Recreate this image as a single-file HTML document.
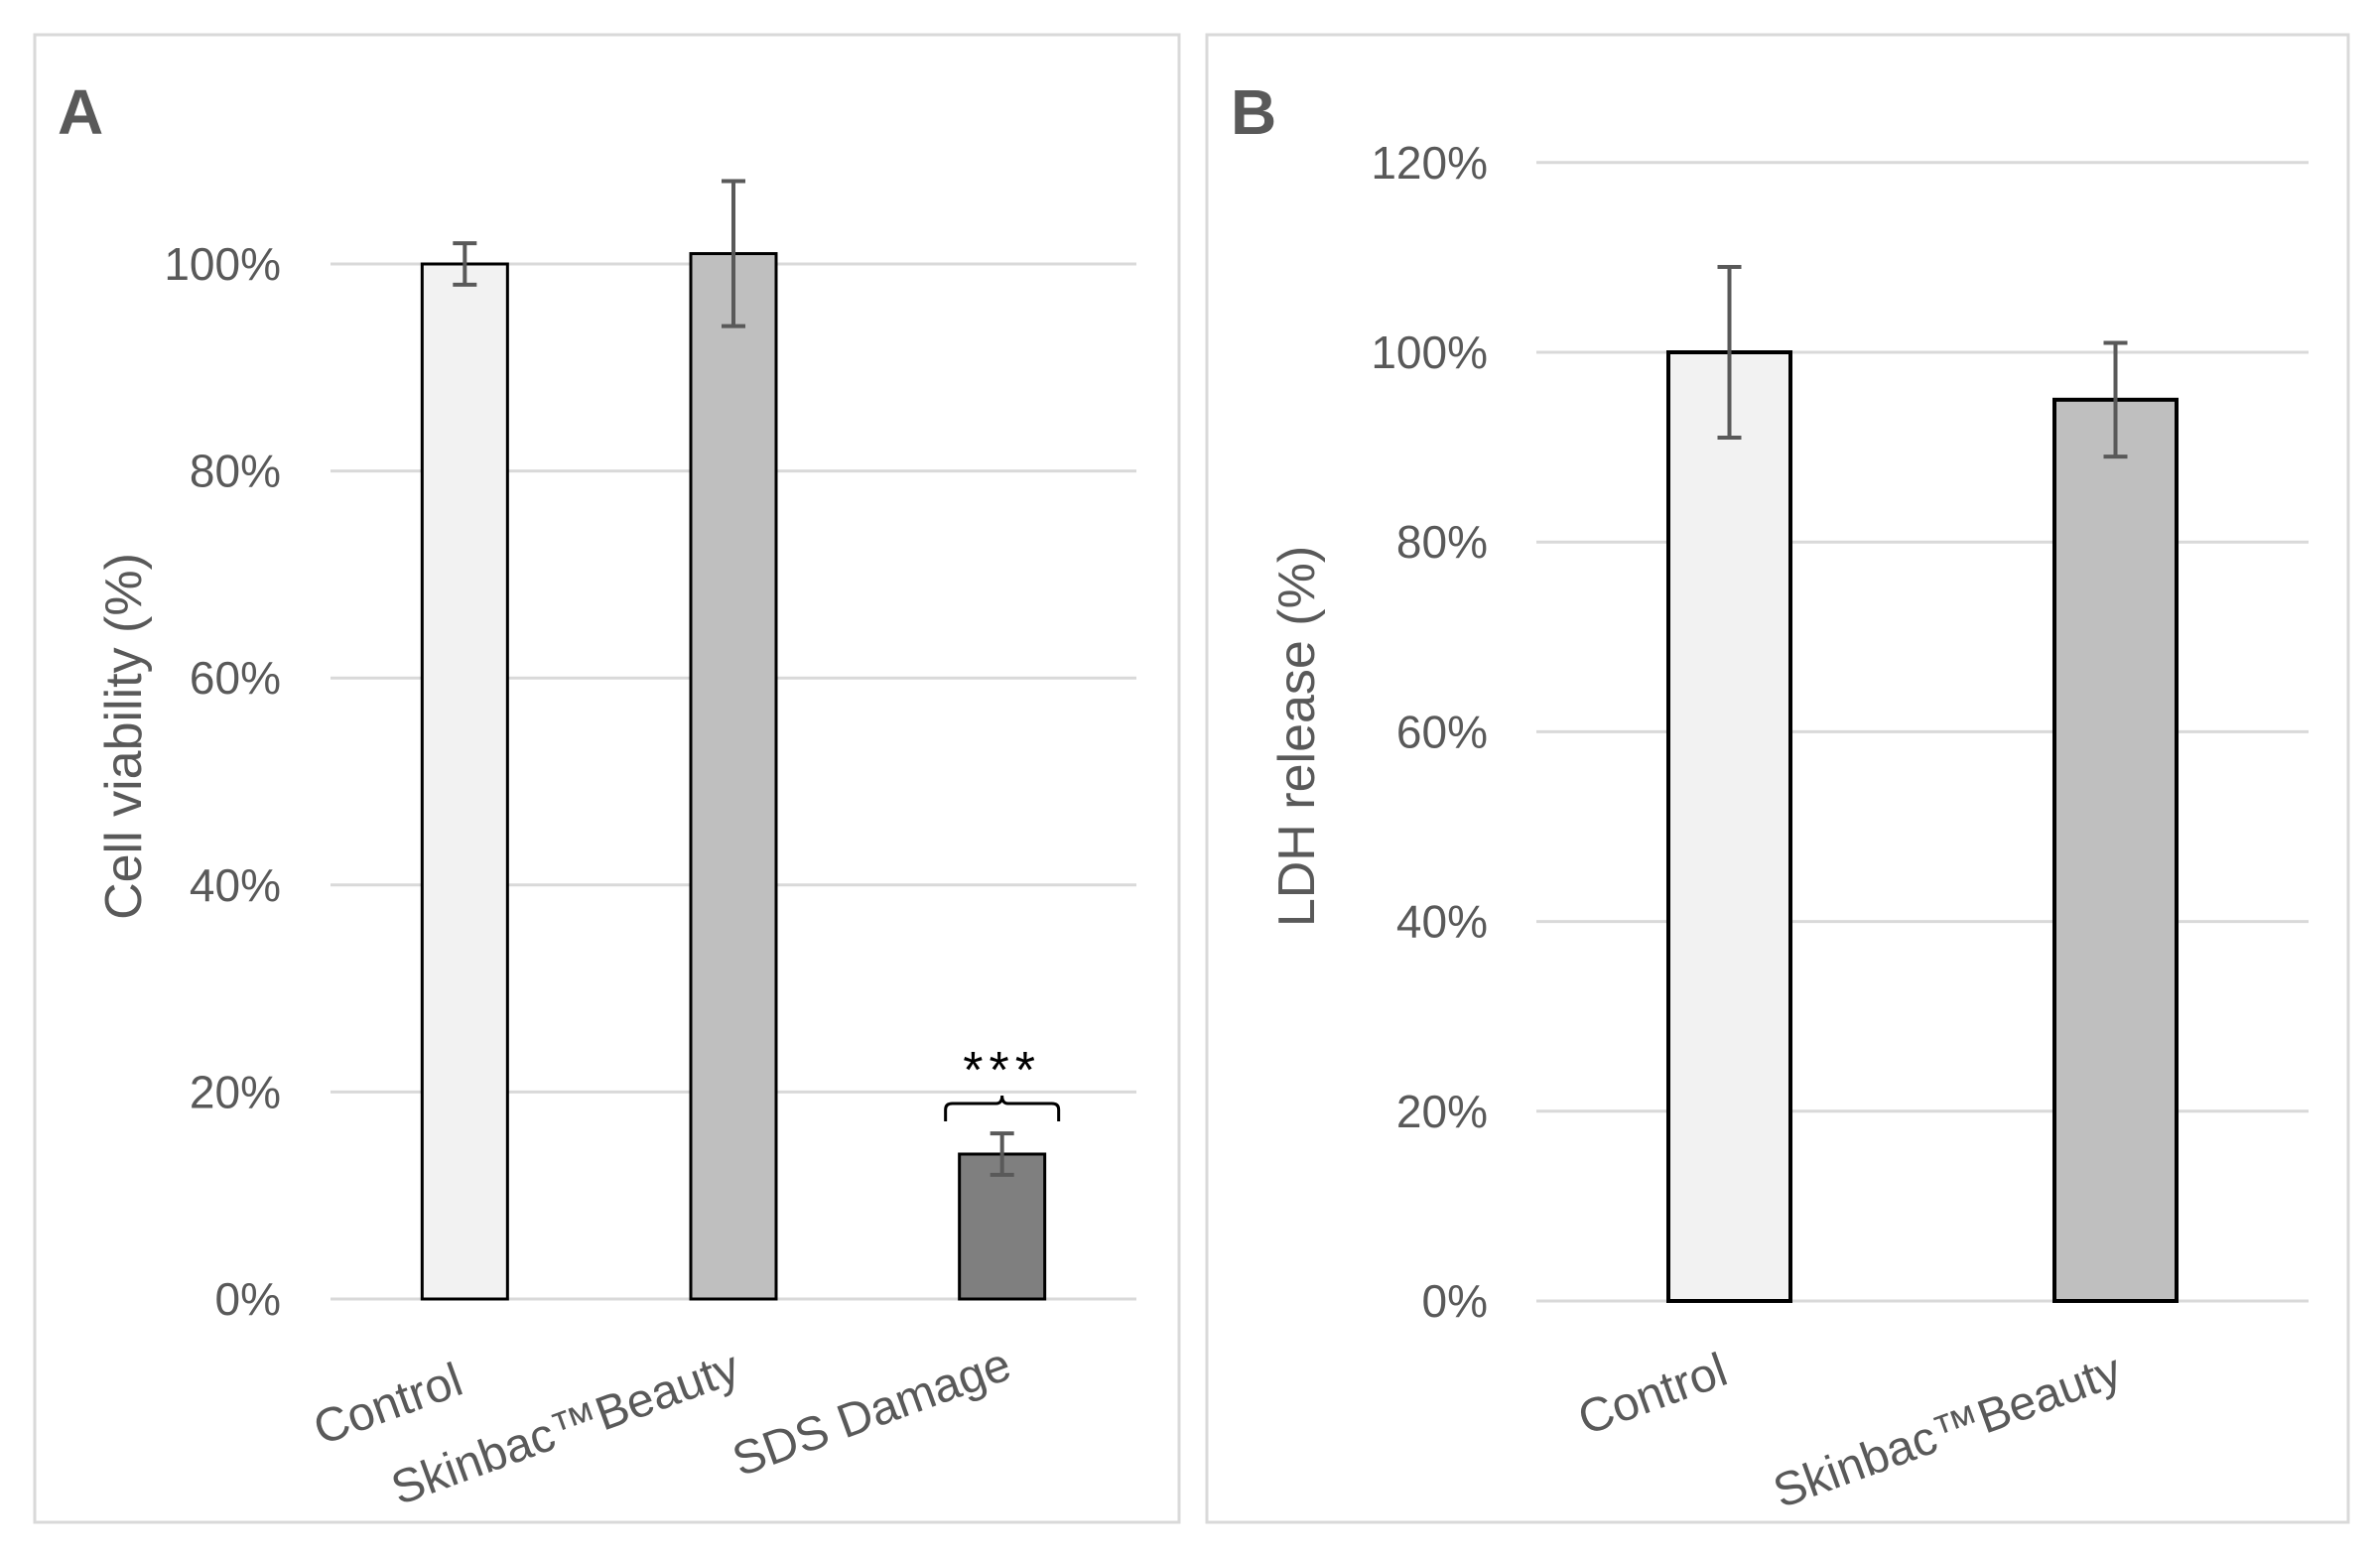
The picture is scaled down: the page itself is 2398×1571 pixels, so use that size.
<!DOCTYPE html>
<html><head><meta charset="utf-8"><style>
body{margin:0;background:#fff}
svg{display:block;font-family:"Liberation Sans",sans-serif}
</style></head><body>
<svg id="fig" width="2398" height="1571" viewBox="0 0 2398 1571">
<rect x="35" y="35" width="1153" height="1499" fill="#fff" stroke="#d9d9d9" stroke-width="3"/>
<rect x="1216" y="35" width="1150" height="1499" fill="#fff" stroke="#d9d9d9" stroke-width="3"/>
<text x="58" y="135" font-size="64" font-weight="bold" fill="#595959">A</text>
<text x="1240" y="135" font-size="64" font-weight="bold" fill="#595959">B</text>
<text transform="translate(142,742) rotate(-90)" text-anchor="middle" font-size="52" fill="#595959">Cell viability (%)</text>
<text transform="translate(1324,742) rotate(-90)" text-anchor="middle" font-size="52" fill="#595959">LDH release (%)</text>
<g id="ga"></g><g id="gb"></g>
</svg>
<script>
const catsA = ["Control", "Skinbac™Beauty", "SDS Damage"];
const valsA = [100, 101, 14];
const errA = [2, 7, 2];
const fillsA = ["#f2f2f2", "#bfbfbf", "#7f7f7f"];
const ticksA = [0, 20, 40, 60, 80, 100];
const catsB = ["Control", "Skinbac™Beauty"];
const valsB = [100, 95];
const errB = [9, 6];
const fillsB = ["#f2f2f2", "#bfbfbf"];
const ticksB = [0, 20, 40, 60, 80, 100, 120];
const NS = "http://www.w3.org/2000/svg";
function mk(g, tag, attrs){const e=document.createElementNS(NS,tag);for(const k in attrs)e.setAttribute(k,attrs[k]);g.appendChild(e);return e;}
function draw(gid, cats, vals, errs, fills, ticks, cfg){
  const g=document.getElementById(gid);
  const y=v=>cfg.y0-v*(cfg.y0-cfg.y100)/100;
  const band=(cfg.x1-cfg.x0)/cats.length;
  const x=i=>cfg.x0+band*(i+0.5);
  ticks.forEach(t=>{
    const l=mk(g,"line",{x1:cfg.x0,x2:cfg.x1,y1:y(t),y2:y(t),stroke:"#d9d9d9","stroke-width":3});
    
    
    const tx=mk(g,"text",{x:cfg.tx,y:y(t)+16,"text-anchor":"end","font-size":46,fill:"#595959"});
    tx.textContent=t+"%";
    
    
  });
  cats.forEach((c,i)=>{
    const cx=x(i), w=cfg.bw;
    const r=mk(g,"rect",{x:cx-w/2,y:y(vals[i]),width:w,height:y(0)-y(vals[i]),fill:fills[i],stroke:"#000","stroke-width":cfg.sw});
    
    
    const hi=y(vals[i]+errs[i]), lo=y(vals[i]-errs[i]);
    const eb=mk(g,"path",{d:`M${cx},${hi}V${lo}M${cx-12},${hi}H${cx+12}M${cx-12},${lo}H${cx+12}`,stroke:"#595959","stroke-width":4,fill:"none"});
    
    
    const lb=mk(g,"text",{transform:`translate(${cx-cfg.lo[i]},${cfg.ly+cfg.ldy[i]}) rotate(-20)`,"text-anchor":"middle","font-size":48,fill:"#595959"});
    lb.textContent=c;
    
    
  });
  return {x,y};
}
const a=draw("ga",catsA,valsA,errA,fillsA,ticksA,{x0:333,x1:1145,y0:1309,y100:266,tx:283,bw:86,sw:3,lo:[72,164,126],ly:1430,ldy:[0,24,8]});
const b=draw("gb",catsB,valsB,errB,fillsB,ticksB,{x0:1548,x1:2326,y0:1311,y100:355,tx:1499,bw:123,sw:4,lo:[72,164],ly:1420,ldy:[0,37]});
const ga=document.getElementById("ga");
const sx=a.x(2), by=1118;
const br=mk(ga,"path",{d:`M${sx-57},${by+12}V${by}Q${sx-57},${by-6} ${sx-50},${by-6}H${sx-6}Q${sx},${by-6} ${sx},${by-14}Q${sx},${by-6} ${sx+6},${by-6}H${sx+50}Q${sx+57},${by-6} ${sx+57},${by}V${by+12}`,stroke:"#000","stroke-width":3,fill:"none"});


const st=mk(ga,"text",{x:sx,y:1096,"text-anchor":"middle","font-size":52,"letter-spacing":"6",fill:"#000"});
st.textContent="***";


</script>
</body></html>
